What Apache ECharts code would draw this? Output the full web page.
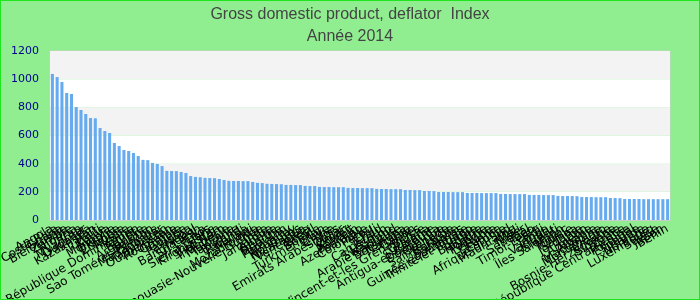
<!DOCTYPE html>
<html>
<head>
<meta charset="utf-8">
<script src="https://cdn.jsdelivr.net/npm/echarts@6/dist/echarts.min.js"></script>
<style>
html,body{margin:0;padding:0;background:#90ee90;}
#wrap{position:relative;width:700px;height:300px;}
#chart{width:700px;height:300px;}
#frame{position:absolute;left:0;top:0;width:700px;height:300px;box-sizing:border-box;border:1px solid #1ee61e;pointer-events:none;}
</style>
</head>
<body>
<div id="wrap"><div id="chart"></div><div id="frame"></div></div>
<script>
const titleText = 'Gross domestic product, deflator  Index';
const subtitleText = 'Année 2014';
const yTicks = [0, 200, 400, 600, 800, 1000, 1200];
const countries = [
 'Angola','Costa Rica','Ghana','Biélorussie','Zambie','Nigéria','Iran','Myanmar','Ouganda','Kazakhstan',
 'Haïti','Turquie','Kenya','Mongolie','Ukraine','Éthiopie','Russie','République Dominicaine','Yémen','Égypte',
 'Argentine','Soudan','Sao Tomé-et-Principe','Madagascar','Tadjikistan','Ouzbékistan','Roumanie','Gambie','Guinée','Pakistan',
 'Népal','Bangladesh','Sri Lanka','Laos','Sierra Leone','Kirghizistan','Viet Nam','Indonésie','Moldavie','Tanzanie',
 'Burundi','Rwanda','Malawi','Mozambique','Papouasie-Nouvelle-Guinée','Inde','Jamaïque','Algérie','Géorgie','Bhoutan',
 'Paraguay','Uruguay','Honduras','Nicaragua','Venezuela','Brésil','Bolivie','Turkménistan','Libye','Chine',
 'Emirats Arabes Unis','Qatar','Oman','Koweït','Bahreïn','Azerbaïdjan','Colombie','Pérou','Chili','Tchad',
 'Cameroun','Lesotho','Swaziland','Arabie Saoudite','Botswana','Namibie','Gabon','Saint-Vincent-et-les Grenadines','Belize','Guyana',
 'Suriname','Antigua-et-Barbuda','Dominique','Grenade','Sainte-Lucie','Barbade','Bahamas','Guinée équatoriale','Trinité-et-Tobago','Serbie',
 'Bulgarie','Hongrie','Pologne','Lettonie','Lituanie','Estonie','Afrique du Sud','Mauritanie','Mali','Niger',
 'Sénégal','Togo','Timor-Leste','Fidji','Tonga','Vanuatu','Kiribati','Îles Salomon','Maroc','Tunisie',
 'Samoa','Jordanie','Liban','Arménie','Albanie','Macédoine','Monténégro','Croatie','Bosnie-Herzégovine','Slovénie',
 'Grèce','République Centrafricaine','Portugal','Espagne','Irlande','Norvège','Luxembourg','Suisse','Japon','Bénin'
];
const deflatorIndex = [
 1037,1015,980,902,895,802,781,753,724,722,
 653,632,618,547,525,497,490,476,454,427,
 425,405,398,383,349,348,347,341,334,312,
 306,304,299,298,297,291,284,278,277,277,
 276,276,270,264,262,257,256,255,254,249,
 249,248,248,242,241,241,235,234,234,233,
 233,233,228,227,227,226,226,226,221,220,
 220,219,219,219,213,213,212,212,206,206,
 205,199,199,199,198,198,198,192,192,192,
 191,191,191,191,185,185,184,184,184,184,
 178,178,178,177,177,177,171,170,170,170,
 169,163,163,163,162,162,162,156,156,155,
 149,149,149,149,148,148,148,148,148,148
];

const chart = echarts.init(document.getElementById('chart'), null, {renderer:'canvas'});
chart.setOption({
  animation: false,
  backgroundColor: '#90ee90',
  title: {
    text: titleText,
    subtext: subtitleText,
    left: 'center',
    top: 2,
    itemGap: 6,
    textStyle: {fontFamily: 'Liberation Sans', fontSize: 16, fontWeight: 'normal', color: '#444'},
    subtextStyle: {fontFamily: 'Liberation Sans', fontSize: 16, fontWeight: 'normal', color: '#444'}
  },
  grid: {left: 50, right: 30, top: 51, bottom: 80, containLabel: false, outerBoundsMode: 'none',
         show: true, borderColor: '#cccccc', borderWidth: 1, backgroundColor: 'transparent'},
  xAxis: {
    type: 'category',
    data: countries,
    axisTick: {show: false},
    axisLine: {show: true, lineStyle: {color: '#cccccc'}},
    axisLabel: {interval: 0, rotate: 30, fontSize: 12, color: '#000', fontFamily: 'DejaVu Sans', margin: 8, hideOverlap: false}
  },
  yAxis: {
    type: 'value',
    min: yTicks[0],
    max: yTicks[yTicks.length - 1],
    interval: yTicks[1] - yTicks[0],
    axisLine: {show: false},
    axisTick: {show: false},
    splitLine: {show: false},
    splitArea: {show: true, areaStyle: {color: ['#ffffff', '#f3f3f3']}},
    axisLabel: {color: '#00008b', fontSize: 11, fontFamily: 'DejaVu Sans', margin: 11, formatter: v => String(v)}
  },
  series: [{
    type: 'bar',
    data: deflatorIndex,
    barCategoryGap: '36%',
    itemStyle: {color: '#66aaf0'}
  }]
});
</script>
</body>
</html>
